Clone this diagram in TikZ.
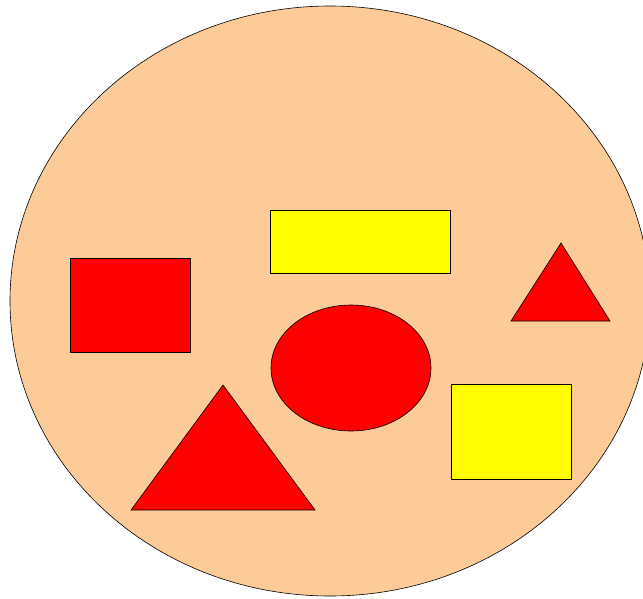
\documentclass[tikz,border=0pt]{standalone}
\usepackage{tikz}
\usepackage{xcolor}
\definecolor{vpeach}{RGB}{253,203,152}
\definecolor{vred}{RGB}{255,0,0}
\definecolor{vyellow}{RGB}{255,255,0}

\begin{document}
\begin{tikzpicture}[x=1pt,y=-1pt,line width=0.6pt,
    redshape/.style={draw=black,fill=vred},
    yellowshape/.style={draw=black,fill=vyellow}]
    \clip (0,0) rectangle (643,598);
    \draw[fill=vpeach] (330,301) ellipse [x radius=320,y radius=295];
    % boxes
    \draw[redshape] (70,258) rectangle (190,352);
    \draw[yellowshape] (270,210) rectangle (450,273);
    \draw[yellowshape] (451,384) rectangle (571,479);
    % triangles and the oval
    \draw[redshape] (561,243)--(610,321)--(511,321)--cycle;
    \draw[redshape] (223,385)--(315,510)--(131,510)--cycle;
    \draw[redshape] (351,368) ellipse [x radius=80,y radius=63];
  \end{tikzpicture}
\end{document}
